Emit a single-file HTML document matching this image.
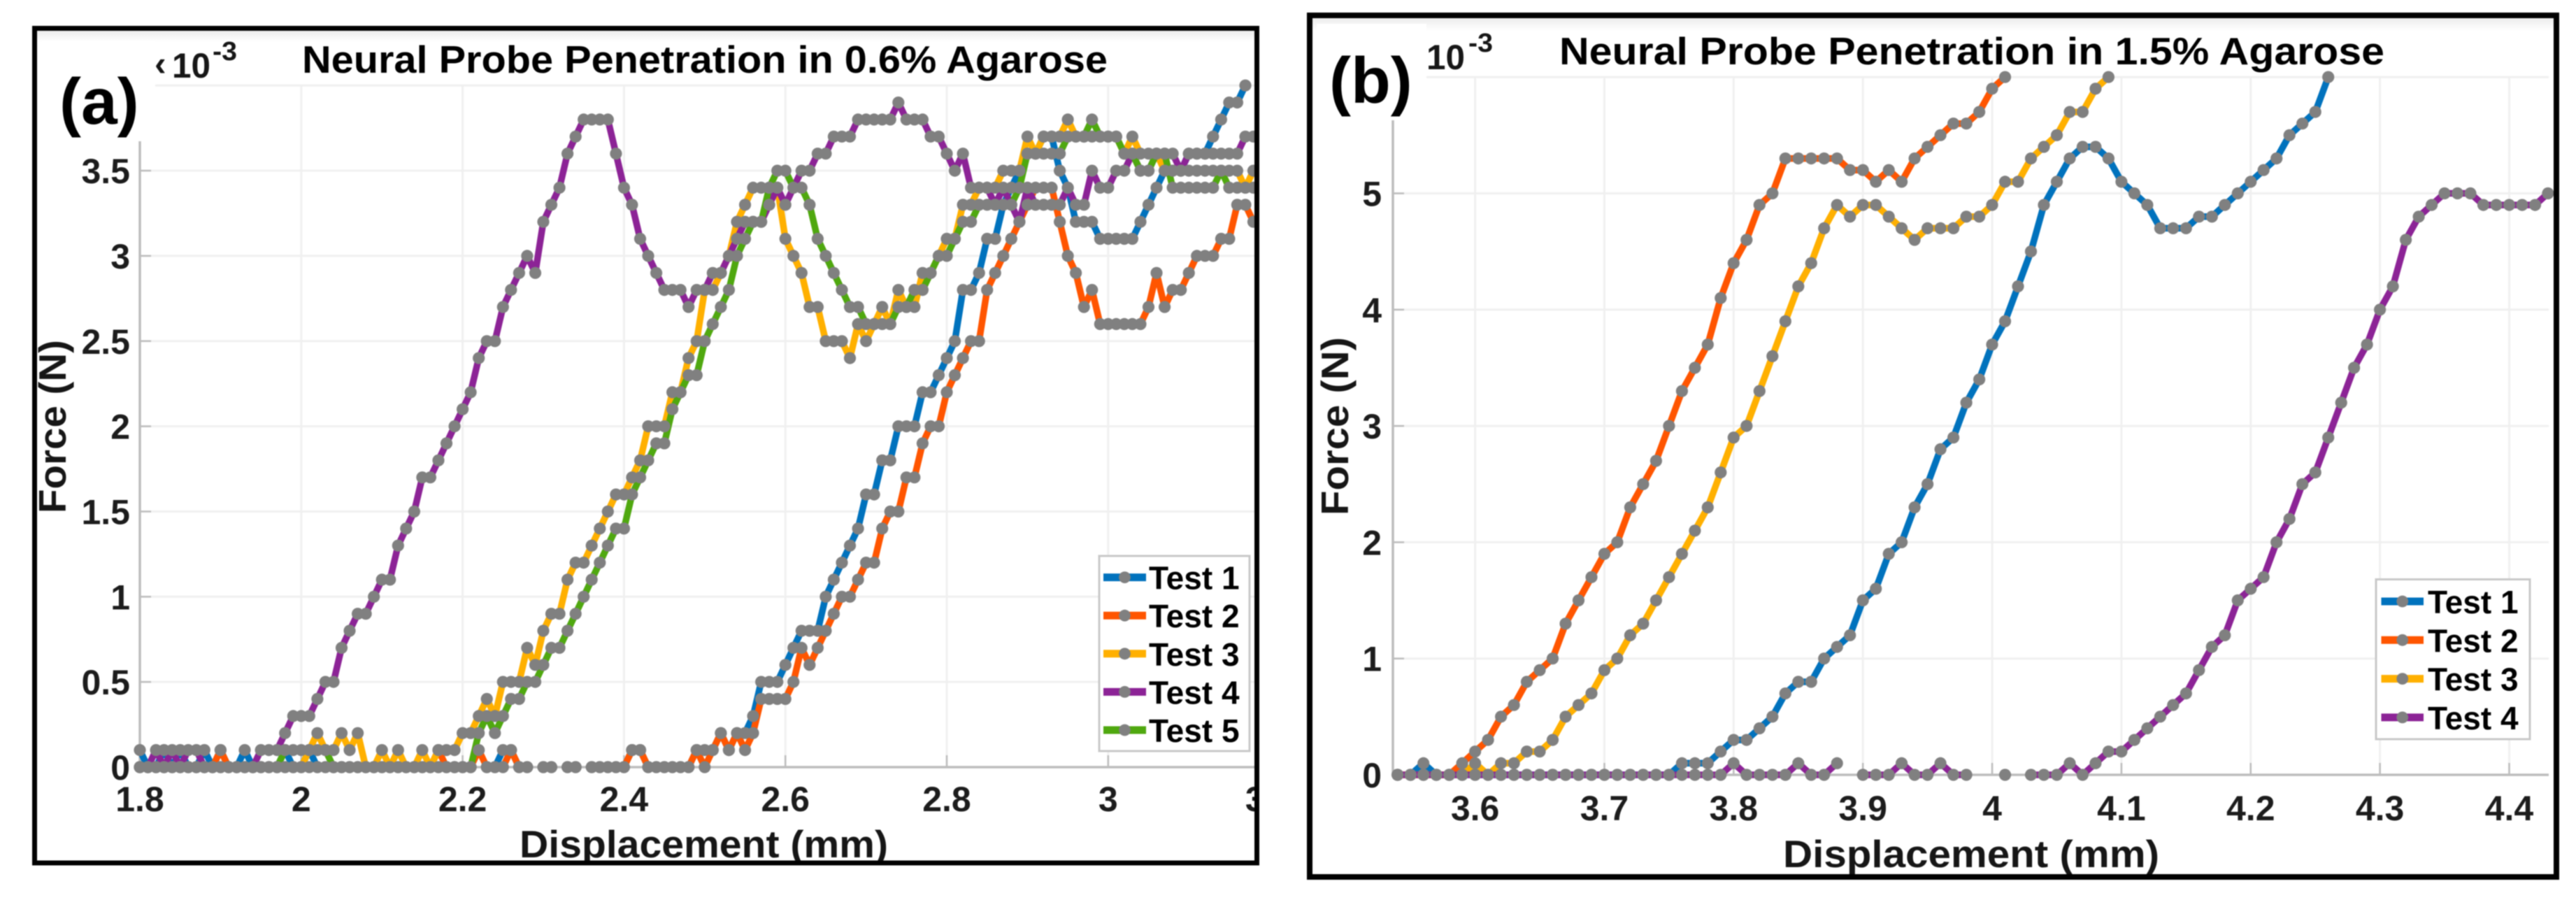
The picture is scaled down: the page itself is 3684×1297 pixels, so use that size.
<!DOCTYPE html>
<html lang="en">
<head>
<meta charset="utf-8">
<title>Neural Probe Penetration in Agarose</title>
<style>
html,body{margin:0;padding:0;background:#fff;width:3684px;height:1297px;overflow:hidden}
svg{display:block;filter:blur(0.7px)}
text{font-family:"Liberation Sans",sans-serif;fill:#111}
.tick{font-size:50px;font-weight:700;fill:#1c1c1c}
.title{font-size:55px;font-weight:700;fill:#000}
.axis-title{font-size:55px;font-weight:700;fill:#161616}
.leg{font-size:46px;font-weight:700;fill:#000}
.panel{font-size:93px;font-weight:700;fill:#000}
.exp{font-size:50px;font-weight:700;fill:#161616}
.exps{font-size:38px;font-weight:700;fill:#161616}
</style>
</head>
<body>
<svg id="chart" xmlns="http://www.w3.org/2000/svg" width="3684" height="1297" viewBox="0 0 3684 1297">
  <defs>
    <linearGradient id="topShade" x1="0" y1="0" x2="0" y2="1">
      <stop offset="0" stop-color="#ececec"/>
      <stop offset="1" stop-color="#ffffff"/>
    </linearGradient>
    <clipPath id="clipA"><rect x="52" y="44" width="1742" height="1187"/></clipPath>
    <clipPath id="clipB"><rect x="1877" y="26" width="1775" height="1225"/></clipPath>
  </defs>
  <rect x="0" y="0" width="3684" height="1297" fill="#fff"/>

  <g id="panelA" clip-path="url(#clipA)">
    <rect x="52" y="44" width="1742" height="16" fill="url(#topShade)"/>
    <g id="gridA"></g>
    <g id="axesA"></g>
    <g id="linesA"></g>
    <g id="marksA"></g>
    <rect x="60" y="58" width="162" height="144" fill="#fff"/>
    <text class="panel" x="85" y="177">(a)</text>
    <text class="exp" x="221" y="108" font-size="50">‹</text>
    <text class="exp" x="246" y="111" textLength="55" lengthAdjust="spacingAndGlyphs">10</text>
    <text class="exps" x="304" y="86" textLength="35" lengthAdjust="spacingAndGlyphs">-3</text>
    <text class="title" x="432" y="104" textLength="1152" lengthAdjust="spacingAndGlyphs">Neural Probe Penetration in 0.6% Agarose</text>
    <g id="ticksA"></g>
    <text class="axis-title" x="743" y="1226" textLength="527" lengthAdjust="spacingAndGlyphs">Displacement (mm)</text>
    <text class="axis-title" transform="translate(94 734) rotate(-90)" textLength="248" lengthAdjust="spacingAndGlyphs">Force (N)</text>
    <g id="legendA"></g>
  </g>
  <rect x="49.5" y="40.5" width="1748" height="1193.5" fill="none" stroke="#000" stroke-width="7"/>

  <g id="panelB" clip-path="url(#clipB)">
    <rect x="1877" y="26" width="1775" height="18" fill="url(#topShade)"/>
    <g id="gridB"></g>
    <g id="axesB"></g>
    <g id="linesB"></g>
    <g id="marksB"></g>
    <rect x="1883" y="34" width="157" height="138" fill="#fff"/>
    <text class="panel" x="1901" y="147">(b)</text>
    <text class="exp" x="2040" y="99" textLength="55" lengthAdjust="spacingAndGlyphs">10</text>
    <text class="exps" x="2100" y="74" textLength="35" lengthAdjust="spacingAndGlyphs">-3</text>
    <text class="title" x="2230" y="92" textLength="1180" lengthAdjust="spacingAndGlyphs">Neural Probe Penetration in 1.5% Agarose</text>
    <g id="ticksB"></g>
    <text class="axis-title" x="2550" y="1240" textLength="538" lengthAdjust="spacingAndGlyphs">Displacement (mm)</text>
    <text class="axis-title" transform="translate(1928 737) rotate(-90)" textLength="255" lengthAdjust="spacingAndGlyphs">Force (N)</text>
    <g id="legendB"></g>
  </g>
  <rect x="1873" y="22" width="1783" height="1232" fill="none" stroke="#000" stroke-width="8"/>
</svg>

<script>
// ---- Panel (a) data: displacement in mm, force in units of 10^-3 N ----
const displacementA = [1.80,1.81,1.82,1.83,1.84,1.85,1.86,1.87,1.88,1.89,1.90,1.91,1.92,1.93,1.94,1.95,1.96,1.97,1.98,1.99,2.00,2.01,2.02,2.03,2.04,2.05,2.06,2.07,2.08,2.09,2.10,2.11,2.12,2.13,2.14,2.15,2.16,2.17,2.18,2.19,2.20,2.21,2.22,2.23,2.24,2.25,2.26,2.27,2.28,2.29,2.30,2.31,2.32,2.33,2.34,2.35,2.36,2.37,2.38,2.39,2.40,2.41,2.42,2.43,2.44,2.45,2.46,2.47,2.48,2.49,2.50,2.51,2.52,2.53,2.54,2.55,2.56,2.57,2.58,2.59,2.60,2.61,2.62,2.63,2.64,2.65,2.66,2.67,2.68,2.69,2.70,2.71,2.72,2.73,2.74,2.75,2.76,2.77,2.78,2.79,2.80,2.81,2.82,2.83,2.84,2.85,2.86,2.87,2.88,2.89,2.90,2.91,2.92,2.93,2.94,2.95,2.96,2.97,2.98,2.99,3.00,3.01,3.02,3.03,3.04,3.05,3.06,3.07,3.08,3.09,3.10,3.11,3.12,3.13,3.14,3.15,3.16,3.17,3.18];
const test1A = [0.1,0,0,0.1,0,0.1,0,0,0.1,0, 0.1,0,0,0.1,0,0,0,0,0.1,0, 0,0.1,0,0,0,0,0,0,0,0, 0,0,0,0,0,0,0,0,0,0, 0,0,null,0,0,0.1,0.1,0,0,null, 0,0,null,0,0,null,0,0,0,0, 0,0.1,0.1,0,0,0,0,0,0,0.1, 0.1,0.1,0.2,0.1,0.2,0.2,0.3,0.5,0.5,0.5, 0.6,0.7,0.8,0.8,0.8,1.0,1.1,1.2,1.3,1.4, 1.6,1.6,1.8,1.8,2.0,2.0,2.0,2.2,2.2,2.3, 2.4,2.5,2.8,2.8,2.9,3.1,3.1,3.3,3.4,3.5, 3.6,3.6,3.7,3.7,3.5,3.4,3.2,3.2,3.2,3.1, 3.1,3.1,3.1,3.1,3.2,3.3,3.4,3.5,3.5,3.5, 3.6,3.6,3.6,3.7,3.8,3.9,3.9,4.0,null];
const test2A = [0,0,0,0,0,0,0,0,0,0, 0.1,0,0,0,0,0,0,0,0,0, 0,0,0,0,0,0,0,0,0,0, 0,0,0,0,0,0,0,0.1,0,0, 0,0,0.1,0,0,0,0.1,0,0,null, 0,0,null,0,0,null,0,0,0,0, 0,0.1,0.1,0,0,0,0,0,0,0.1, 0,0.1,0.2,0.1,0.2,0.1,0.2,0.4,0.4,0.4, 0.4,0.5,0.7,0.6,0.7,0.8,0.9,1.0,1.0,1.1, 1.2,1.2,1.4,1.5,1.5,1.7,1.7,1.9,2.0,2.0, 2.2,2.3,2.4,2.5,2.5,2.8,2.9,3.0,3.1,3.2, 3.3,3.4,3.4,3.4,3.2,3.0,2.9,2.7,2.8,2.6, 2.6,2.6,2.6,2.6,2.6,2.7,2.9,2.7,2.8,2.8, 2.9,3.0,3.0,3.0,3.1,3.1,3.3,3.3,3.2];
const test3A = [0,0,0,0,0,0,0,0,0,0, 0,0,0,0,0,0,0,0,0,0, 0,0.1,0.2,0.1,0.1,0.2,0.1,0.2,0,0, 0.1,0,0.1,0,0,0.1,0,0.1,0.1,0.1, 0.2,0.2,0.3,0.4,0.3,0.5,0.5,0.5,0.7,0.6, 0.8,0.9,0.9,1.1,1.2,1.2,1.3,1.4,1.5,1.6, 1.6,1.7,1.8,2.0,2.0,2.0,2.2,2.2,2.4,2.5, 2.8,2.8,2.9,3.0,3.2,3.3,3.4,3.4,3.4,3.4, 3.1,3.0,2.9,2.7,2.7,2.5,2.5,2.5,2.4,2.6, 2.5,2.6,2.7,2.6,2.8,2.7,2.7,2.9,2.9,3.0, 3.1,3.1,3.3,3.3,3.4,3.4,3.4,3.5,3.5,3.5, 3.7,3.6,3.7,3.7,3.7,3.8,3.7,3.7,3.7,3.7, 3.7,3.7,3.6,3.7,3.6,3.6,3.6,3.5,3.5,3.5, 3.5,3.5,3.5,3.5,3.5,3.5,3.5,3.4,3.5];
const test4A = [0,0,0.1,0,0.1,0,0.1,0.1,0,0, 0,0,0,0,0,0.1,0.1,0.1,0.2,0.3, 0.3,0.3,0.4,0.5,0.5,0.7,0.8,0.9,0.9,1.0, 1.1,1.1,1.3,1.4,1.5,1.7,1.7,1.8,1.9,2.0, 2.1,2.2,2.4,2.5,2.5,2.7,2.8,2.9,3.0,2.9, 3.2,3.3,3.4,3.6,3.7,3.8,3.8,3.8,3.8,3.6, 3.4,3.3,3.1,3.0,2.9,2.8,2.8,2.8,2.7,2.8, 2.8,2.9,2.9,3.0,3.1,3.2,3.2,3.2,3.3,3.4, 3.3,3.4,3.5,3.5,3.6,3.6,3.7,3.7,3.7,3.8, 3.8,3.8,3.8,3.8,3.9,3.8,3.8,3.8,3.7,3.7, 3.6,3.5,3.6,3.4,3.4,3.4,3.3,3.4,3.3,3.2, 3.4,3.3,3.3,3.3,3.3,3.4,3.3,3.3,3.5,3.4, 3.4,3.5,3.5,3.6,3.5,3.5,3.6,3.6,3.6,3.5, 3.6,3.6,3.6,3.6,3.6,3.6,3.6,3.7,3.7];
const test5A = [0,0,0,0,0,0,0,0,0,0, 0,0,0,0,0,0,0,0,0.1,0.1, 0.1,0.1,0.1,0.1,0,0,0,0,0,0, 0,0,0,0,0,0,0,0,0,0, 0,0,0.2,0.3,0.2,0.3,0.4,0.4,0.5,0.5, 0.6,0.7,0.7,0.8,0.9,1.0,1.1,1.2,1.3,1.4, 1.4,1.6,1.7,1.8,1.9,1.9,2.1,2.2,2.3,2.3, 2.5,2.6,2.7,2.8,3.0,3.1,3.2,3.2,3.4,3.5, 3.5,3.4,3.4,3.3,3.1,3.0,2.9,2.8,2.7,2.7, 2.6,2.6,2.6,2.6,2.7,2.7,2.8,2.8,2.9,3.0, 3.0,3.1,3.2,3.2,3.3,3.3,3.3,3.3,3.3,3.4, 3.6,3.6,3.6,3.6,3.6,3.7,3.7,3.7,3.8,3.7, 3.7,3.7,3.6,3.6,3.5,3.5,3.6,3.6,3.4,3.4, 3.4,3.4,3.4,3.4,3.5,3.4,3.4,3.4,3.4];
const xTicksA = [1.8,2,2.2,2.4,2.6,2.8,3,3.2];
const xTickLabelsA = ["1.8","2","2.2","2.4","2.6","2.8","3","3.2"];
const yTicksA = [0,0.5,1,1.5,2,2.5,3,3.5,4];
const yTickLabelsA = ["0","0.5","1","1.5","2","2.5","3","3.5",""];
const seriesNamesA = ["Test 1","Test 2","Test 3","Test 4","Test 5"];

// ---- Panel (b) data: displacement in mm, force in units of 10^-3 N ----
const displacementB = [3.54,3.55,3.56,3.57,3.58,3.59,3.60,3.61,3.62,3.63,3.64,3.65,3.66,3.67,3.68,3.69,3.70,3.71,3.72,3.73,3.74,3.75,3.76,3.77,3.78,3.79,3.80,3.81,3.82,3.83,3.84,3.85,3.86,3.87,3.88,3.89,3.90,3.91,3.92,3.93,3.94,3.95,3.96,3.97,3.98,3.99,4.00,4.01,4.02,4.03,4.04,4.05,4.06,4.07,4.08,4.09,4.10,4.11,4.12,4.13,4.14,4.15,4.16,4.17,4.18,4.19,4.20,4.21,4.22,4.23,4.24,4.25,4.26,4.27,4.28,4.29,4.30,4.31,4.32,4.33,4.34,4.35,4.36,4.37,4.38,4.39,4.40,4.41,4.42,4.43];
const test1B = [0,0,0.1,0,0,0,0,0,0,0, 0,0,0,0,0,0,0,0,0,0, 0,0,0.1,0.1,0.1,0.2,0.3,0.3,0.4,0.5, 0.7,0.8,0.8,1.0,1.1,1.2,1.5,1.6,1.9,2.0, 2.3,2.5,2.8,2.9,3.2,3.4,3.7,3.9,4.2,4.5, 4.9,5.1,5.3,5.4,5.4,5.3,5.1,5.0,4.9,4.7, 4.7,4.7,4.8,4.8,4.9,5.0,5.1,5.2,5.3,5.5, 5.6,5.7,6.0];
const test2B = [0,0,0,0,0,0.1,0.2,0.3,0.5,0.6, 0.8,0.9,1.0,1.3,1.5,1.7,1.9,2.0,2.3,2.5, 2.7,3.0,3.3,3.5,3.7,4.1,4.4,4.6,4.9,5.0, 5.3,5.3,5.3,5.3,5.3,5.2,5.2,5.1,5.2,5.1, 5.3,5.4,5.5,5.6,5.6,5.7,5.9,6.0];
const test3B = [0,0,0,0,0,0,0.1,0,0.1,0.1, 0.2,0.2,0.3,0.5,0.6,0.7,0.9,1.0,1.2,1.3, 1.5,1.7,1.9,2.1,2.3,2.6,2.9,3.0,3.3,3.6, 3.9,4.2,4.4,4.7,4.9,4.8,4.9,4.9,4.8,4.7, 4.6,4.7,4.7,4.7,4.8,4.8,4.9,5.1,5.1,5.3, 5.4,5.5,5.7,5.7,5.9,6.0];
const test4B = [0,0,0,0,0,0,0,0,0,0, 0,0,0,0,0,0,0,0,0,0, 0,0,0,0,0,0,0.1,0,0,0, 0,0.1,0,0,0.1,null,0,0,0,0.1, 0,0,0.1,0,0,null,null,0,null,0, 0,0,0.1,0,0.1,0.2,0.2,0.3,0.4,0.5, 0.6,0.7,0.9,1.1,1.2,1.5,1.6,1.7,2.0,2.2, 2.5,2.6,2.9,3.2,3.5,3.7,4.0,4.2,4.6,4.8, 4.9,5.0,5.0,5.0,4.9,4.9,4.9,4.9,4.9,5.0];
const xTicksB = [3.6,3.7,3.8,3.9,4,4.1,4.2,4.3,4.4];
const xTickLabelsB = ["3.6","3.7","3.8","3.9","4","4.1","4.2","4.3","4.4"];
const yTicksB = [0,1,2,3,4,5,6];
const yTickLabelsB = ["0","1","2","3","4","5",""];
const seriesNamesB = ["Test 1","Test 2","Test 3","Test 4"];

// ---- Appearance ----
const SERIES_COLORS = ["#0072BD","#FF5500","#FFB000","#8C2396","#4FA80F"];
const MARKER_COLOR = "#808080";
const SVG_NS = "http://www.w3.org/2000/svg";

// ---- Axis functions ----
function xScaleA(v){ return 200 + (v - 1.8) * 1154; }
function yScaleA(v){ return 1097 - v * 243.7; }
function xScaleB(v){ return 2109.6 + (v - 3.6) * 1848.6; }
function yScaleB(v){ return 1108 - v * 166.3; }

function mk(tag, props, parent){
  const el = document.createElementNS(SVG_NS, tag);
  for (const k in props) el.setAttribute(k, props[k]);
  parent.appendChild(el);
  return el;
}

function drawPanel(p){
  const grid = document.getElementById("grid" + p.id);
  const axes = document.getElementById("axes" + p.id);
  const ticks = document.getElementById("ticks" + p.id);
  const lines = document.getElementById("lines" + p.id);
  const marks = document.getElementById("marks" + p.id);
  const legend = document.getElementById("legend" + p.id);
  const y0 = p.y(0), yTop = p.y(p.yTicks[p.yTicks.length - 1]);

  p.xTicks.forEach(function(t, i){
    const x = p.x(t);
    const g = mk("line", {x1:x, x2:x, y1:y0, y2:yTop, stroke:"#f0f0f0", "stroke-width":3}, grid);
    
    
    const tk = mk("line", {x1:x, x2:x, y1:y0, y2:y0 - 17, stroke:"#bdbdbd", "stroke-width":2.5}, axes);
    
    
    const lb = mk("text", {x:x, y:p.xLabelY, "text-anchor":"middle", "class":"tick"}, ticks);
    lb.textContent = p.xTickLabels[i];
    
    
  });
  p.yTicks.forEach(function(t, i){
    const y = p.y(t);
    const g = mk("line", {x1:p.axisX, x2:p.gridRight, y1:y, y2:y, stroke:"#f0f0f0", "stroke-width":3}, grid);
    
    
    if (p.yTickLabels[i] === "") return;
    const tk = mk("line", {x1:p.axisX, x2:p.axisX + 16, y1:y, y2:y, stroke:"#bdbdbd", "stroke-width":2.5}, axes);
    
    
    const lb = mk("text", {x:p.yLabelX, y:y + 18, "text-anchor":"end", "class":"tick"}, ticks);
    lb.textContent = p.yTickLabels[i];
    
    
  });
  const xAxis = mk("line", {x1:p.axisX, x2:p.gridRight, y1:y0, y2:y0, stroke:"#bdbdbd", "stroke-width":3.5}, axes);
  
  
  const yAxis = mk("line", {x1:p.axisX, x2:p.axisX, y1:y0, y2:yTop, stroke:"#bdbdbd", "stroke-width":3.5}, axes);
  
  

  p.series.forEach(function(vals, s){
    let d = "", pen = false;
    vals.forEach(function(v, i){
      if (v === null) { pen = false; return; }
      d += (pen ? "L" : "M") + p.x(p.xs[i]).toFixed(1) + " " + p.y(v).toFixed(1);
      pen = true;
    });
    const path = mk("path", {d:d, fill:"none", stroke:SERIES_COLORS[s], "stroke-width":9.5, "stroke-linejoin":"round"}, lines);
    
    
  });
  p.series.forEach(function(vals, s){
    vals.forEach(function(v, i){
      if (v === null) return;
      const c = mk("circle", {cx:p.x(p.xs[i]).toFixed(1), cy:p.y(v).toFixed(1), r:8.6, fill:MARKER_COLOR}, marks);
      
      
    });
  });

  const box = mk("rect", {x:p.legend.x, y:p.legend.y, width:p.legend.w, height:p.legend.h, fill:"#fff", stroke:"#c8c8c8", "stroke-width":3}, legend);
  
  
  p.names.forEach(function(name, s){
    const y = p.legend.first + s * p.legend.gap;
    const ln = mk("line", {x1:p.legend.lineX1, x2:p.legend.lineX2, y1:y, y2:y, stroke:SERIES_COLORS[s], "stroke-width":11}, legend);
    
    
    const mc = mk("circle", {cx:(p.legend.lineX1 + p.legend.lineX2) / 2, cy:y, r:8.4, fill:MARKER_COLOR}, legend);
    
    
    const tx = mk("text", {x:p.legend.textX, y:y + 17, "class":"leg"}, legend);
    tx.textContent = name;
    
    
  });
}

drawPanel({
  id:"A", x:xScaleA, y:yScaleA, xs:displacementA,
  series:[test1A,test2A,test3A,test4A,test5A], names:seriesNamesA,
  xTicks:xTicksA, xTickLabels:xTickLabelsA, yTicks:yTicksA, yTickLabels:yTickLabelsA,
  axisX:200, gridRight:1794, xLabelY:1160, yLabelX:186,
  legend:{x:1572,y:795,w:215,h:279,first:825.6,gap:54.6,lineX1:1578,lineX2:1639,textX:1643}
});
drawPanel({
  id:"B", x:xScaleB, y:yScaleB, xs:displacementB,
  series:[test1B,test2B,test3B,test4B], names:seriesNamesB,
  xTicks:xTicksB, xTickLabels:xTickLabelsB, yTicks:yTicksB, yTickLabels:yTickLabelsB,
  axisX:1992, gridRight:3645, xLabelY:1173, yLabelX:1976,
  legend:{x:3398,y:828.5,w:220,h:228.5,first:860,gap:55.3,lineX1:3405.5,lineX2:3466,textX:3472}
});
</script>
</body>
</html>
